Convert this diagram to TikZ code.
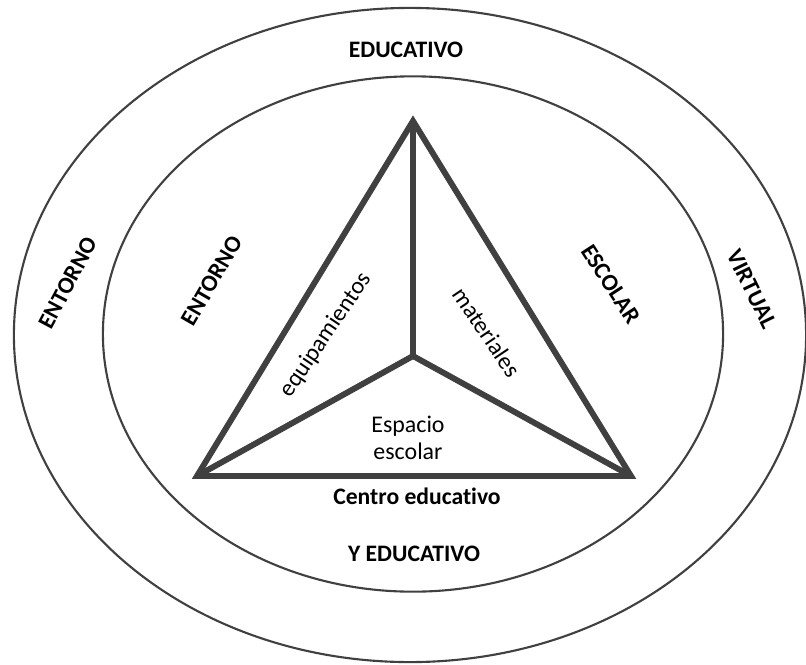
\documentclass[tikz,border=0pt]{standalone}
\usepackage{fontspec}
\setmainfont{Carlito}[Ligatures=NoCommon]
\definecolor{linegray}{HTML}{404040}

\begin{document}
\begin{tikzpicture}[
  x=0.025cm,
  y=-0.025cm,
  ring/.style={
  	draw=linegray,
  	line width=1.5pt
  },
  edge/.style={
  	draw=linegray,
  	line width=4.2pt,
  	line join=miter,
  	miter limit=20
  },
  caps/.style={
  	font=\bfseries\fontsize{16.8}{19}\selectfont,
  	inner sep=0pt
  },
  word/.style={
  	font=\fontsize{17}{19.5}\selectfont,
  	align=center,
  	inner sep=0pt
  }
  ]
  \useasboundingbox (0,0) rectangle (806,664);

  \draw[ring] (410,335) ellipse [x radius=9.9cm, y radius=8.175cm];
  \draw[ring] (413,334) ellipse [x radius=7.75cm, y radius=6.44cm];

  \coordinate (top) at (413,121);
  \coordinate (left) at (197,476);
  \coordinate (right) at (631,476);
  \coordinate (hub) at (413,356);

  \draw[edge] (top) -- (left) -- (right) -- cycle;
  \foreach \c in {top,left,right}
  \draw[edge] (hub) -- (\c);

  \foreach \x/\y/\r/\t/\n in {406/50/0/EDUCATIVO/top,414/554/0/Y EDUCATIVO/bottom,
    68/283/62/ENTORNO/outerleft,212/281/60/ENTORNO/innerleft,
    611/284/-57/ESCOLAR/innerright,752/289/-64/VIRTUAL/outerright,
    417/496/0/Centro educativo/centro}
  \node[caps,rotate=\r] (\n) at (\x,\y) {\t};

  \node[word] (espacio) at (408,438) {Espacio\\escolar};
  \node[word,rotate=56] (equip) at (326,335) {equipamientos};
  \node[word,rotate=-56] (mat) at (487,332) {materiales};

\end{tikzpicture}
\end{document}
